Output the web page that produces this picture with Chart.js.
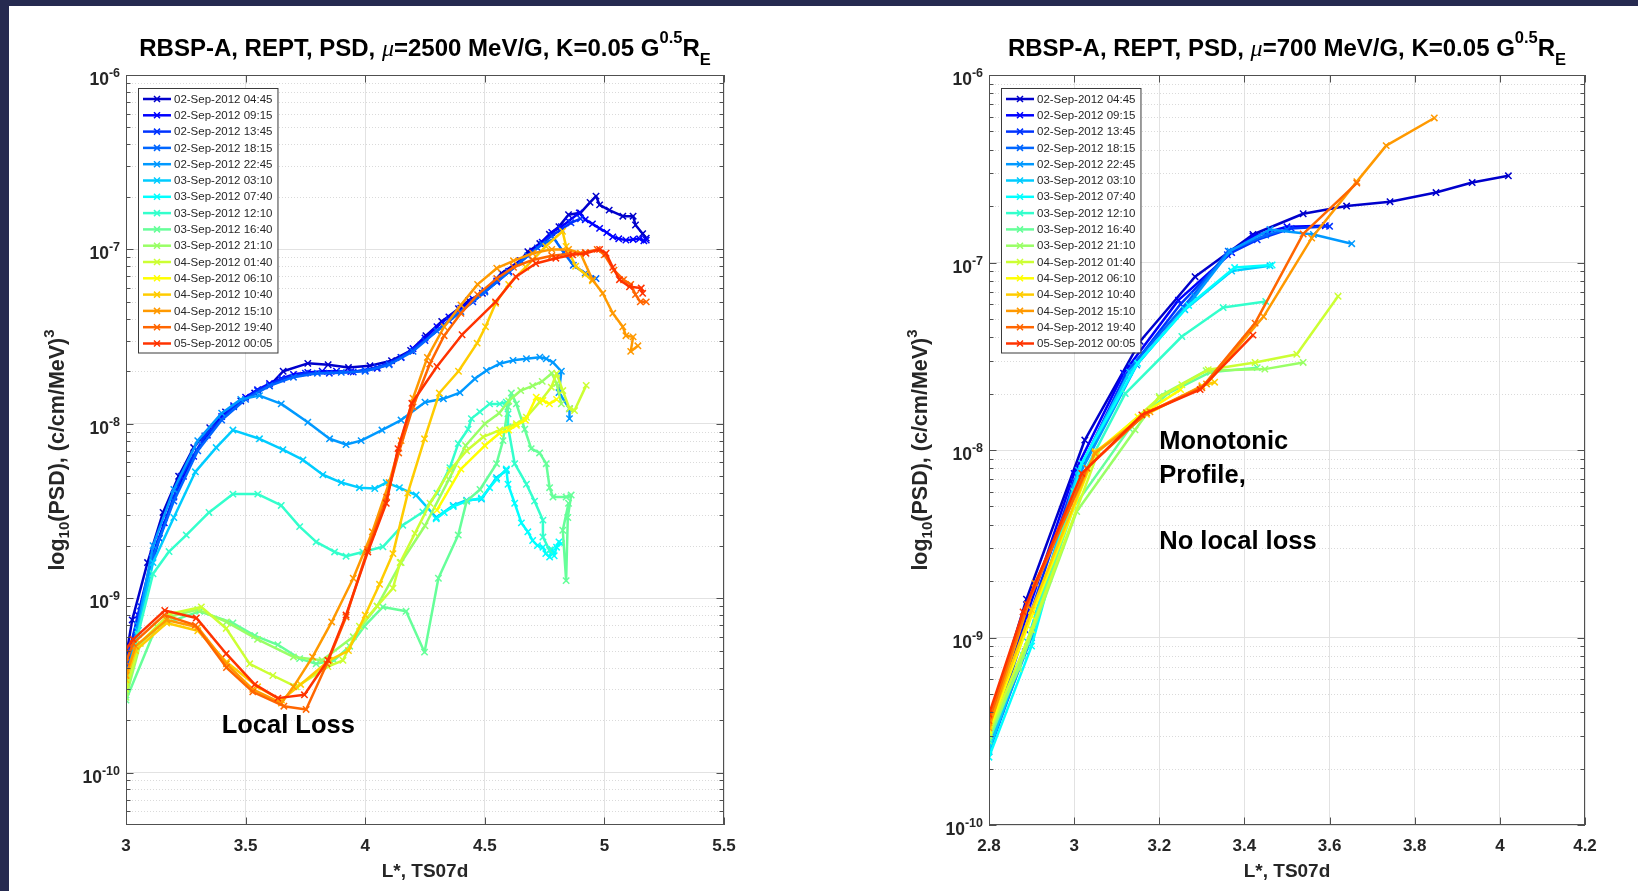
<!DOCTYPE html>
<html>
<head>
<meta charset="utf-8">
<title>RBSP-A REPT PSD radial profiles</title>
<script src="https://cdn.jsdelivr.net/npm/chart.js@4.4.1/dist/chart.umd.min.js"></script>
<style>
  html, body { margin: 0; padding: 0; background: #fff; }
  #page { position: relative; width: 1638px; height: 891px; background: #fff; overflow: hidden; }
  #bar-top { position: absolute; left: 0; top: 0; width: 1638px; height: 6px; background: #262a50; }
  #bar-left { position: absolute; left: 0; top: 0; width: 9px; height: 891px; background: #262a50; }
  #psd2500 { position: absolute; left: 0; top: 0; }
  #psd700 { position: absolute; left: 860px; top: 0; }
</style>
</head>
<body>
<div id="page">
  <canvas id="psd2500" width="860" height="891"></canvas>
  <canvas id="psd700" width="778" height="891"></canvas>
  <div id="bar-top"></div>
  <div id="bar-left"></div>
</div>
<script>
// Pass start times, same for both panels
const passTimes = [
  '02-Sep-2012 04:45', '02-Sep-2012 09:15', '02-Sep-2012 13:45', '02-Sep-2012 18:15',
  '02-Sep-2012 22:45', '03-Sep-2012 03:10', '03-Sep-2012 07:40', '03-Sep-2012 12:10',
  '03-Sep-2012 16:40', '03-Sep-2012 21:10', '04-Sep-2012 01:40', '04-Sep-2012 06:10',
  '04-Sep-2012 10:40', '04-Sep-2012 15:10', '04-Sep-2012 19:40', '05-Sep-2012 00:05'
];

// jet-like colours, one per pass
const passColors = [
  '#0000cc', '#0000ff', '#0033ff', '#0066ff', '#0099ff', '#00ccff', '#00ffff', '#33ffcc',
  '#66ff99', '#99ff66', '#ccff33', '#ffff00', '#ffcc00', '#ff9900', '#ff6600', '#ff3300'
];

const leftXTicks = [3, 3.5, 4, 4.5, 5, 5.5];
const rightXTicks = [2.8, 3, 3.2, 3.4, 3.6, 3.8, 4, 4.2];
const psdDecades = [1e-10, 1e-9, 1e-8, 1e-7, 1e-6];

// mu = 2500 MeV/G : [L*, PSD]
const mu2500_01 = [[3.00,4.6e-10],[3.026,7.5e-10],[3.09,1.6e-9],[3.155,3.1e-9],[3.22,5.0e-9],[3.283,7.3e-9],[3.35,9.5e-9],[3.416,1.17e-8],[3.48,1.35e-8],[3.538,1.5e-8],[3.60,1.65e-8],[3.657,2.0e-8],[3.76,2.22e-8],[3.845,2.18e-8],[3.93,2.1e-8],[4.02,2.15e-8],[4.11,2.3e-8],[4.19,2.63e-8],[4.254,3.2e-8],[4.32,3.86e-8],[4.39,4.57e-8],[4.433,5.1e-8],[4.49,5.6e-8],[4.57,7.3e-8],[4.647,8.6e-8],[4.68,9.7e-8],[4.73,1.08e-7],[4.77,1.22e-7],[4.81,1.35e-7],[4.85,1.58e-7],[4.90,1.62e-7],[4.94,1.86e-7],[4.965,2.02e-7],[4.98,1.8e-7],[5.02,1.68e-7],[5.077,1.55e-7],[5.12,1.55e-7],[5.13,1.38e-7],[5.16,1.23e-7],[5.175,1.16e-7]];
const mu2500_02 = [[3.00,3.8e-10],[3.05,8.0e-10],[3.113,1.8e-9],[3.16,2.7e-9],[3.20,3.8e-9],[3.24,5.0e-9],[3.283,6.5e-9],[3.34,8.6e-9],[3.40,1.1e-8],[3.45,1.27e-8],[3.50,1.42e-8],[3.55,1.57e-8],[3.60,1.7e-8],[3.65,1.82e-8],[3.70,1.92e-8],[3.76,1.97e-8],[3.82,2.0e-8],[3.88,2.0e-8],[3.94,1.99e-8],[4.00,2.02e-8],[4.05,2.08e-8],[4.10,2.2e-8],[4.15,2.4e-8],[4.20,2.7e-8],[4.25,3.1e-8],[4.30,3.6e-8],[4.35,4.1e-8],[4.40,4.6e-8],[4.45,5.2e-8],[4.50,5.8e-8],[4.55,6.6e-8],[4.60,7.5e-8],[4.65,8.6e-8],[4.70,9.8e-8],[4.74,1.1e-7],[4.78,1.25e-7],[4.82,1.35e-7],[4.85,1.45e-7],[4.895,1.62e-7],[4.92,1.48e-7],[4.95,1.4e-7],[4.98,1.32e-7],[5.01,1.25e-7],[5.035,1.18e-7],[5.06,1.15e-7],[5.09,1.13e-7],[5.12,1.14e-7],[5.147,1.15e-7],[5.165,1.12e-7],[5.175,1.13e-7]];
const mu2500_03 = [[3.00,4.2e-10],[3.06,9.0e-10],[3.14,2.2e-9],[3.23,5.0e-9],[3.33,8.5e-9],[3.45,1.25e-8],[3.55,1.55e-8],[3.65,1.8e-8],[3.75,1.95e-8],[3.85,1.95e-8],[3.95,1.98e-8],[4.05,2.1e-8],[4.15,2.4e-8],[4.25,3.0e-8],[4.35,3.9e-8],[4.45,5.0e-8],[4.55,6.5e-8],[4.65,8.5e-8],[4.72,1.02e-7],[4.78,1.2e-7],[4.82,1.3e-7],[4.86,1.42e-7],[4.90,1.5e-7]];
const mu2500_04 = [[3.00,3.5e-10],[3.05,7.0e-10],[3.11,1.7e-9],[3.20,3.6e-9],[3.30,7.0e-9],[3.40,1.05e-8],[3.50,1.38e-8],[3.60,1.65e-8],[3.70,1.85e-8],[3.80,1.95e-8],[3.90,1.97e-8],[4.00,2.0e-8],[4.10,2.18e-8],[4.20,2.6e-8],[4.30,3.4e-8],[4.40,4.4e-8],[4.50,5.7e-8],[4.60,7.4e-8],[4.68,9.2e-8],[4.74,1.07e-7],[4.79,1.15e-7],[4.83,9.6e-8],[4.87,8.1e-8],[4.92,7.3e-8],[4.965,6.8e-8]];
const mu2500_05 = [[3.00,3.3e-10],[3.05,7.0e-10],[3.113,2.0e-9],[3.20,4.2e-9],[3.30,8.0e-9],[3.40,1.15e-8],[3.48,1.38e-8],[3.558,1.45e-8],[3.649,1.3e-8],[3.76,1.02e-8],[3.851,8.2e-9],[3.92,7.6e-9],[3.983,8.0e-9],[4.07,9.2e-9],[4.15,1.05e-8],[4.25,1.33e-8],[4.327,1.39e-8],[4.396,1.51e-8],[4.458,1.81e-8],[4.507,2.02e-8],[4.5625,2.21e-8],[4.618,2.31e-8],[4.674,2.36e-8],[4.73,2.41e-8],[4.757,2.36e-8],[4.785,2.25e-8],[4.82,2.0e-8],[4.81,1.51e-8],[4.854,1.22e-8],[4.854,1.07e-8]];
const mu2500_06 = [[3.00,3.2e-10],[3.05,6.5e-10],[3.113,1.6e-9],[3.20,2.9e-9],[3.29,5.3e-9],[3.377,7.3e-9],[3.447,9.2e-9],[3.558,8.2e-9],[3.656,7.1e-9],[3.74,6.2e-9],[3.823,5.1e-9],[3.90,4.6e-9],[3.976,4.3e-9],[4.04,4.25e-9],[4.088,4.6e-9],[4.143,4.3e-9],[4.213,3.9e-9],[4.297,2.9e-9],[4.368,3.4e-9],[4.424,3.64e-9],[4.486,3.7e-9],[4.549,4.9e-9],[4.59,5.4e-9]];
const mu2500_07 = [[4.297,2.85e-9],[4.33,3.1e-9],[4.368,3.35e-9],[4.424,3.6e-9],[4.486,3.75e-9],[4.52,4.3e-9],[4.549,4.8e-9],[4.59,5.5e-9],[4.597,4.5e-9],[4.625,3.5e-9],[4.653,2.7e-9],[4.68,2.4e-9],[4.70,2.14e-9],[4.72,2.0e-9],[4.743,1.96e-9],[4.755,1.8e-9],[4.771,1.72e-9],[4.78,1.9e-9],[4.79,1.75e-9],[4.80,1.96e-9],[4.81,2.1e-9],[4.82,2.05e-9]];
const mu2500_08 = [[3.00,2.9e-10],[3.05,6.2e-10],[3.113,1.38e-9],[3.18,1.85e-9],[3.252,2.3e-9],[3.347,3.1e-9],[3.447,3.95e-9],[3.551,3.95e-9],[3.649,3.4e-9],[3.726,2.57e-9],[3.795,2.1e-9],[3.872,1.84e-9],[3.92,1.74e-9],[3.99,1.84e-9],[4.074,1.97e-9],[4.157,2.62e-9],[4.241,3.12e-9],[4.30,4.0e-9],[4.354,5.6e-9],[4.389,7.7e-9],[4.43,9.3e-9],[4.444,1.07e-8],[4.479,1.17e-8],[4.52,1.3e-8],[4.5625,1.3e-8],[4.59,1.33e-8],[4.597,1.14e-8],[4.597,9.6e-9],[4.625,5.9e-9],[4.674,4.5e-9],[4.708,3.6e-9],[4.743,2.8e-9],[4.743,2.24e-9],[4.771,1.88e-9]];
const mu2500_09 = [[3.00,2.6e-10],[3.127,6.9e-10],[3.308,8.4e-10],[3.447,7.2e-10],[3.538,6.1e-10],[3.635,5.4e-10],[3.726,4.5e-10],[3.795,4.2e-10],[3.87,4.4e-10],[3.935,5.3e-10],[3.997,6.9e-10],[4.074,8.9e-10],[4.171,8.4e-10],[4.248,4.9e-10],[4.306,1.3e-9],[4.389,2.3e-9],[4.424,3.6e-9],[4.48,4.2e-9],[4.549,5.9e-9],[4.576,8.0e-9],[4.597,1.25e-8],[4.611,1.5e-8],[4.632,1.3e-8],[4.667,9.3e-9],[4.694,7.2e-9],[4.729,6.8e-9],[4.757,5.9e-9],[4.771,4.3e-9],[4.785,3.8e-9],[4.84,3.8e-9],[4.861,3.9e-9],[4.847,2.9e-9],[4.84,1.26e-9],[4.826,2.45e-9],[4.85,3.5e-9]];
const mu2500_10 = [[3.00,2.7e-10],[3.06,5.5e-10],[3.18,7.8e-10],[3.30,8.6e-10],[3.42,7.3e-10],[3.55,5.8e-10],[3.70,4.6e-10],[3.82,4.4e-10],[3.95,6.0e-10],[4.05,9.0e-10],[4.15,1.6e-9],[4.25,2.6e-9],[4.35,4.8e-9],[4.42,7.5e-9],[4.50,1.0e-8],[4.56,1.15e-8],[4.60,1.35e-8],[4.65,1.55e-8],[4.70,1.65e-8],[4.74,1.75e-8],[4.78,1.95e-8],[4.80,1.7e-8],[4.82,1.3e-8]];
const mu2500_11 = [[3.00,3.0e-10],[3.057,5.5e-10],[3.18,8.1e-10],[3.315,8.9e-10],[3.419,6.7e-10],[3.517,4.2e-10],[3.614,3.6e-10],[3.712,3.1e-10],[3.844,4.05e-10],[3.907,4.4e-10],[3.976,6.9e-10],[4.05,9.0e-10],[4.116,1.14e-9],[4.146,1.6e-9],[4.208,2.35e-9],[4.271,3.5e-9],[4.354,5.4e-9],[4.424,7.0e-9],[4.493,8.4e-9],[4.5625,9.2e-9],[4.632,1.0e-8],[4.674,1.09e-8],[4.729,1.33e-8],[4.778,1.62e-8],[4.80,1.94e-8],[4.826,1.55e-8],[4.854,1.22e-8],[4.875,1.19e-8],[4.924,1.66e-8]];
const mu2500_12 = [[4.30,3.2e-9],[4.40,5.5e-9],[4.50,7.5e-9],[4.56,8.8e-9],[4.60,9.2e-9],[4.632,9.8e-9],[4.67,1.05e-8],[4.715,1.42e-8],[4.743,1.36e-8],[4.77,1.3e-8],[4.80,1.38e-8]];
const mu2500_13 = [[3.00,3.4e-10],[3.04,5.0e-10],[3.17,7.2e-10],[3.30,6.5e-10],[3.42,4.3e-10],[3.55,3.1e-10],[3.65,2.6e-10],[3.73,3.2e-10],[3.85,4.4e-10],[3.93,5.0e-10],[4.00,8.0e-10],[4.06,1.2e-9],[4.116,1.8e-9],[4.178,4.0e-9],[4.248,8.2e-9],[4.31,1.5e-8],[4.39,2.0e-8],[4.468,2.9e-8],[4.503,3.6e-8],[4.545,4.9e-8],[4.60,6.3e-8],[4.671,7.9e-8],[4.755,1.04e-7],[4.825,1.27e-7],[4.84,1.04e-7],[4.88,8.0e-8],[4.92,7.2e-8],[4.95,6.6e-8]];
const mu2500_14 = [[3.00,3.6e-10],[3.04,5.3e-10],[3.17,7.5e-10],[3.30,6.8e-10],[3.42,4.2e-10],[3.53,3.0e-10],[3.65,2.5e-10],[3.70,3.1e-10],[3.78,4.6e-10],[3.86,7.3e-10],[3.95,1.3e-9],[4.03,2.4e-9],[4.10,4.6e-9],[4.15,8.0e-9],[4.20,1.4e-8],[4.26,2.4e-8],[4.33,3.6e-8],[4.40,4.8e-8],[4.47,6.3e-8],[4.55,7.8e-8],[4.62,8.6e-8],[4.70,9.5e-8],[4.78,1.0e-7],[4.85,1.0e-7],[4.90,9.5e-8],[4.95,6.7e-8],[4.993,5.6e-8],[5.035,4.3e-8],[5.077,3.6e-8],[5.09,3.2e-8],[5.12,3.15e-8],[5.11,2.6e-8],[5.14,2.8e-8]];
const mu2500_15 = [[3.00,4.3e-10],[3.03,5.5e-10],[3.16,8.0e-10],[3.29,7.0e-10],[3.42,4.0e-10],[3.53,2.9e-10],[3.66,2.4e-10],[3.753,2.3e-10],[3.84,4.2e-10],[3.92,7.8e-10],[4.01,1.9e-9],[4.09,3.8e-9],[4.14,6.8e-9],[4.20,1.25e-8],[4.27,2.2e-8],[4.33,3.2e-8],[4.40,4.3e-8],[4.47,5.5e-8],[4.55,6.8e-8],[4.62,7.9e-8],[4.70,8.7e-8],[4.78,9.2e-8],[4.85,9.4e-8],[4.92,9.6e-8],[4.97,1.0e-7],[5.00,9.3e-8],[5.04,7.6e-8],[5.08,6.7e-8],[5.11,6.3e-8],[5.13,5.5e-8],[5.15,5.0e-8],[5.175,5.0e-8]];
const mu2500_16 = [[3.00,5.1e-10],[3.03,5.8e-10],[3.162,8.5e-10],[3.294,7.7e-10],[3.419,4.8e-10],[3.538,3.2e-10],[3.635,2.67e-10],[3.746,2.79e-10],[3.844,4.4e-10],[3.92,8.0e-10],[4.011,1.84e-9],[4.088,3.5e-9],[4.137,7.2e-9],[4.195,1.31e-8],[4.30,2.13e-8],[4.405,3.24e-8],[4.545,5.0e-8],[4.63,6.97e-8],[4.713,8.3e-8],[4.797,8.9e-8],[4.867,9.3e-8],[4.923,9.5e-8],[4.98,1.0e-7],[5.007,9.5e-8],[5.035,7.9e-8],[5.063,6.7e-8],[5.105,6.1e-8],[5.154,6.0e-8],[5.16,5.6e-8]];

// mu = 700 MeV/G : [L*, PSD]
const mu700_01 = [[2.80,3.5e-10],[2.888,1.6e-9],[3.025,1.13e-8],[3.155,3.8e-8],[3.284,8.4e-8],[3.42,1.41e-7],[3.538,1.82e-7],[3.64,2.0e-7],[3.742,2.11e-7],[3.85,2.36e-7],[3.935,2.67e-7],[4.02,2.9e-7]];
const mu700_02 = [[2.80,3.0e-10],[2.888,1.3e-9],[3.00,7.5e-9],[3.116,2.57e-8],[3.245,6.3e-8],[3.37,1.13e-7],[3.42,1.38e-7],[3.50,1.55e-7],[3.59,1.57e-7]];
const mu700_03 = [[2.80,2.7e-10],[2.885,1.1e-9],[3.00,6.8e-9],[3.12,2.5e-8],[3.25,6.0e-8],[3.36,1.1e-7],[3.43,1.32e-7],[3.51,1.52e-7],[3.60,1.56e-7]];
const mu700_04 = [[2.80,2.46e-10],[2.885,8.4e-10],[2.998,6.4e-9],[3.135,2.8e-8],[3.28,6.7e-8],[3.362,1.15e-7],[3.45,1.4e-7],[3.50,1.5e-7]];
const mu700_05 = [[2.80,2.6e-10],[2.90,1.0e-9],[3.01,7.2e-9],[3.147,2.84e-8],[3.284,6.6e-8],[3.366,1.15e-7],[3.46,1.5e-7],[3.562,1.41e-7],[3.652,1.26e-7]];
const mu700_06 = [[2.80,2.5e-10],[2.89,9.5e-10],[3.01,7.8e-9],[3.13,2.6e-8],[3.26,5.6e-8],[3.37,9.0e-8],[3.46,9.6e-8]];
const mu700_07 = [[2.80,2.3e-10],[2.90,9.0e-10],[3.018,8.5e-9],[3.149,2.9e-8],[3.269,5.9e-8],[3.377,9.4e-8],[3.465,9.7e-8]];
const mu700_08 = [[2.80,2.9e-10],[2.88,8.0e-10],[3.00,6.0e-9],[3.12,2.0e-8],[3.253,4.03e-8],[3.35,5.75e-8],[3.45,6.2e-8]];
const mu700_09 = [[2.80,2.8e-10],[2.87,7.0e-10],[3.00,5.0e-9],[3.13,1.3e-8],[3.22,2.0e-8],[3.32,2.6e-8],[3.43,2.75e-8]];
const mu700_10 = [[2.80,3.0e-10],[2.87,6.8e-10],[3.006,4.7e-9],[3.143,1.28e-8],[3.20,1.93e-8],[3.31,2.65e-8],[3.448,2.7e-8],[3.538,2.93e-8]];
const mu700_11 = [[2.80,3.1e-10],[2.90,1.1e-9],[3.057,9.8e-9],[3.20,1.9e-8],[3.253,2.23e-8],[3.315,2.68e-8],[3.425,2.93e-8],[3.523,3.24e-8],[3.62,6.6e-8]];
const mu700_12 = [[2.80,3.2e-10],[2.90,1.3e-9],[3.05,9.7e-9],[3.15,1.5e-8],[3.25,2.1e-8]];
const mu700_13 = [[2.80,3.4e-10],[2.90,1.4e-9],[3.05,9.8e-9],[3.17,1.55e-8],[3.30,2.2e-8],[3.33,2.3e-8]];
const mu700_14 = [[2.80,3.3e-10],[2.908,1.95e-9],[3.049,9.6e-9],[3.178,1.6e-8],[3.311,2.25e-8],[3.445,5.15e-8],[3.558,1.35e-7],[3.664,2.7e-7],[3.733,4.2e-7],[3.846,5.9e-7]];
const mu700_15 = [[2.80,3.6e-10],[2.89,1.5e-9],[3.03,8.0e-9],[3.17,1.58e-8],[3.30,2.15e-8],[3.425,4.75e-8],[3.538,1.42e-7],[3.664,2.65e-7]];
const mu700_16 = [[2.80,3.9e-10],[2.88,1.37e-9],[3.018,7.5e-9],[3.159,1.54e-8],[3.296,2.1e-8],[3.42,4.1e-8]];

const mu2500Series = [mu2500_01, mu2500_02, mu2500_03, mu2500_04, mu2500_05, mu2500_06, mu2500_07, mu2500_08,
  mu2500_09, mu2500_10, mu2500_11, mu2500_12, mu2500_13, mu2500_14, mu2500_15, mu2500_16];
const mu700Series = [mu700_01, mu700_02, mu700_03, mu700_04, mu700_05, mu700_06, mu700_07, mu700_08,
  mu700_09, mu700_10, mu700_11, mu700_12, mu700_13, mu700_14, mu700_15, mu700_16];

const SANS = '"Liberation Sans", Arial, Helvetica, sans-serif';

// text made of runs (for super/subscripts)
function richWidth(ctx, runs) {
  let w = 0;
  runs.forEach(r => { ctx.font = r.font; w += ctx.measureText(r.text).width; });
  return w;
}
function drawRich(ctx, runs, x, y, align) {
  const w = richWidth(ctx, runs);
  let cx = align === 'center' ? x - w / 2 : align === 'right' ? x - w : x;
  ctx.textAlign = 'left';
  ctx.textBaseline = 'alphabetic';
  runs.forEach(r => {
    ctx.font = r.font;
    ctx.fillText(r.text, cx, y + (r.dy || 0));
    cx += ctx.measureText(r.text).width;
  });
}

function minorLogValues(scale) {
  const out = [];
  const lo = Math.floor(Math.log10(scale.min)), hi = Math.ceil(Math.log10(scale.max));
  for (let d = lo; d < hi; d++) {
    for (let m = 2; m <= 9; m++) {
      const v = m * Math.pow(10, d);
      if (v > scale.min && v < scale.max) out.push(v);
    }
  }
  return out;
}

function drawCross(ctx, x, y, r) {
  ctx.beginPath();
  ctx.moveTo(x - r, y - r); ctx.lineTo(x + r, y + r);
  ctx.moveTo(x + r, y - r); ctx.lineTo(x - r, y + r);
  ctx.stroke();
}

// MATLAB-look axes: minor grid, box, inward ticks, labels, legend, notes
const matlabAxes = {
  id: 'matlabAxes',
  beforeDatasetsDraw(chart) {
    const { ctx, chartArea: a, scales: { y } } = chart;
    ctx.save();
    ctx.strokeStyle = '#dadada';
    ctx.lineWidth = 1;
    ctx.setLineDash([1, 2]);
    minorLogValues(y).forEach(v => {
      const py = Math.round(y.getPixelForValue(v)) + 0.5;
      ctx.beginPath(); ctx.moveTo(a.left, py); ctx.lineTo(a.right, py); ctx.stroke();
    });
    ctx.restore();
  },
  afterDatasetsDraw(chart, args, opts) {
    const { ctx, chartArea: a, scales: { x, y } } = chart;
    ctx.save();

    // box + ticks
    ctx.strokeStyle = '#505050';
    ctx.lineWidth = 1;
    ctx.strokeRect(a.left + 0.5, a.top + 0.5, a.right - a.left - 1, a.bottom - a.top - 1);
    ctx.beginPath();
    x.ticks.forEach(t => {
      const px = Math.round(x.getPixelForValue(t.value)) + 0.5;
      ctx.moveTo(px, a.bottom); ctx.lineTo(px, a.bottom - 7.5);
      ctx.moveTo(px, a.top); ctx.lineTo(px, a.top + 7.5);
    });
    y.ticks.forEach(t => {
      const py = Math.round(y.getPixelForValue(t.value)) + 0.5;
      ctx.moveTo(a.left, py); ctx.lineTo(a.left + 7.5, py);
      ctx.moveTo(a.right, py); ctx.lineTo(a.right - 7.5, py);
    });
    minorLogValues(y).forEach(v => {
      const py = Math.round(y.getPixelForValue(v)) + 0.5;
      ctx.moveTo(a.left, py); ctx.lineTo(a.left + 4.5, py);
      ctx.moveTo(a.right, py); ctx.lineTo(a.right - 4.5, py);
    });
    ctx.stroke();

    // tick labels
    ctx.fillStyle = '#262626';
    ctx.font = `bold 17px ${SANS}`;
    ctx.textAlign = 'center';
    ctx.textBaseline = 'alphabetic';
    x.ticks.forEach(t => ctx.fillText(String(t.value), x.getPixelForValue(t.value), a.bottom + 26));
    y.ticks.forEach(t => {
      const exp = Math.round(Math.log10(t.value));
      drawRich(ctx, [
        { text: '10', font: `bold 17.5px ${SANS}` },
        { text: String(exp), font: `bold 12.5px ${SANS}`, dy: -8 }
      ], a.left - 6, y.getPixelForValue(t.value) + 10, 'right');
    });

    // axis titles
    ctx.font = `bold 19px ${SANS}`;
    ctx.textAlign = 'center';
    ctx.fillText('L*, TS07d', (a.left + a.right) / 2, a.bottom + 52);
    ctx.save();
    ctx.translate(a.left - 62, (a.top + a.bottom) / 2);
    ctx.rotate(-Math.PI / 2);
    drawRich(ctx, [
      { text: 'log', font: `bold 21.5px ${SANS}` },
      { text: '10', font: `bold 15px ${SANS}`, dy: 5 },
      { text: '(PSD), (c/cm/MeV)', font: `bold 21.5px ${SANS}` },
      { text: '3', font: `bold 15px ${SANS}`, dy: -10 }
    ], 0, 0, 'center');
    ctx.restore();

    // title
    ctx.fillStyle = '#000';
    const big = `bold 24px ${SANS}`, small = `bold 16.5px ${SANS}`;
    drawRich(ctx, [
      { text: 'RBSP-A, REPT, PSD, ', font: big },
      { text: 'μ', font: `italic 24px "Liberation Serif", serif` },
      { text: `=${opts.mu} MeV/G, K=0.05 G`, font: big },
      { text: '0.5', font: small, dy: -13 },
      { text: 'R', font: big },
      { text: 'E', font: small, dy: 9 }
    ], (a.left + a.right) / 2, a.top - 19, 'center');

    // legend
    const bx = a.left + 12, by = a.top + 13, rowH = 16.3;
    const sets = chart.data.datasets;
    ctx.font = `11.5px ${SANS}`;
    const textW = Math.max(...sets.map(d => ctx.measureText(d.label).width));
    const bw = 36 + textW + 5, bh = 11 + (sets.length - 1) * rowH + 9;
    ctx.fillStyle = '#fff';
    ctx.fillRect(bx, by, bw, bh);
    ctx.strokeStyle = '#3a3a3a';
    ctx.lineWidth = 1;
    ctx.strokeRect(bx + 0.5, by + 0.5, bw, bh);
    sets.forEach((d, i) => {
      const cy = by + 11 + i * rowH;
      ctx.strokeStyle = d.borderColor;
      ctx.lineWidth = 2.5;
      ctx.beginPath(); ctx.moveTo(bx + 5, cy); ctx.lineTo(bx + 33, cy); ctx.stroke();
      ctx.lineWidth = 1.5;
      drawCross(ctx, bx + 19, cy, 3);
      ctx.fillStyle = '#262626';
      ctx.font = `11.5px ${SANS}`;
      ctx.textAlign = 'left';
      ctx.textBaseline = 'middle';
      ctx.fillText(d.label, bx + 36, cy + 0.5);
    });

    // notes (placed in data units)
    ctx.fillStyle = '#000';
    ctx.font = `bold 25.5px ${SANS}`;
    ctx.textAlign = 'left';
    ctx.textBaseline = 'middle';
    (opts.notes || []).forEach(n => {
      const px = x.getPixelForValue(n.x), py = y.getPixelForValue(n.y);
      n.lines.forEach((s, k) => ctx.fillText(s, px, py + k * 33.3));
    });

    ctx.restore();
  }
};

function makePanel(canvasId, series, xTicks, xMin, xMax, yMin, pad, mu, notes) {
  const datasets = series.map((pts, i) => ({
    label: passTimes[i],
    data: pts.map(p => ({ x: p[0], y: p[1] })),
    borderColor: passColors[i],
    backgroundColor: passColors[i],
    pointBorderColor: passColors[i],
    borderWidth: 2.5,
    borderJoinStyle: 'round',
    pointStyle: 'crossRot',
    pointRadius: 4.5,
    pointBorderWidth: 1.5,
    tension: 0,
    fill: false,
    order: -i
  }));
  return new Chart(document.getElementById(canvasId), {
    type: 'line',
    data: { datasets },
    options: {
      responsive: false,
      animation: false,
      devicePixelRatio: 1,
      layout: { padding: pad },
      plugins: {
        legend: { display: false },
        tooltip: { enabled: false },
        matlabAxes: { mu, notes }
      },
      scales: {
        x: {
          type: 'linear', min: xMin, max: xMax,
          afterBuildTicks: s => { s.ticks = xTicks.map(v => ({ value: v })); },
          afterFit: s => { s.height = 0; },
          ticks: { display: false },
          grid: { color: '#e2e2e2', lineWidth: 1, drawTicks: false },
          border: { display: false }
        },
        y: {
          type: 'logarithmic', min: yMin, max: 1e-6,
          afterBuildTicks: s => { s.ticks = psdDecades.filter(v => v >= yMin).map(v => ({ value: v })); },
          afterFit: s => { s.width = 0; },
          ticks: { display: false },
          grid: { color: '#e2e2e2', lineWidth: 1, drawTicks: false },
          border: { display: false }
        }
      }
    },
    plugins: [matlabAxes]
  });
}

makePanel('psd2500', mu2500Series, leftXTicks, 3, 5.5, 5e-11,
  { left: 126, top: 75, right: 136, bottom: 66 }, '2500',
  [{ x: 3.4, y: 1.86e-10, lines: ['Local Loss'] }]);

makePanel('psd700', mu700Series, rightXTicks, 2.8, 4.2, 1e-10,
  { left: 129, top: 75, right: 53, bottom: 66 }, '700',
  [{ x: 3.2, y: 1.1e-8, lines: ['Monotonic', 'Profile,', '', 'No local loss'] }]);
</script>
</body>
</html>
